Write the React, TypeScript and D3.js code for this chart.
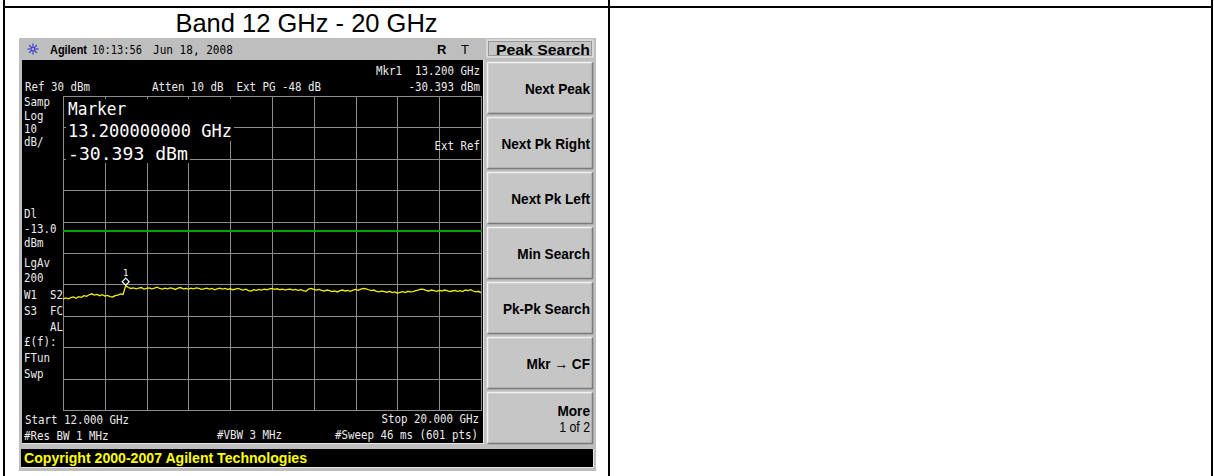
import React from "react";
import * as d3 from "d3";

// ---------- data ----------
const startGHz = 12;
const stopGHz = 20;
const refLevel = 30; // dBm, top of graticule
const dbPerDiv = 10;
const displayLine = -13; // dBm
const markerFreq = 13.2;
const markerLevel = -30.393;

// trace levels (dBm), 12.00 .. 20.00 GHz in 0.05 GHz steps
const traceLevels = [
  -34.7, -34.3, -34.6, -34.2, -34.0, -34.4, -33.9, -34.1, -33.6, -33.8,
  -33.3, -33.0, -33.4, -33.2, -33.6, -33.3, -33.7, -33.5, -33.9, -34.0,
  -33.6, -33.4, -33.0, -33.2, -30.4, -31.0, -31.3, -31.1, -31.4, -31.2,
  -31.0, -31.5, -31.3, -31.1, -31.4, -31.2, -30.9, -31.3, -31.5, -31.2,
  -31.4, -31.1, -31.3, -31.6, -31.2, -31.0, -31.4, -31.3, -31.5, -31.2,
  -31.4, -31.1, -31.3, -31.6, -31.4, -31.2, -31.5, -31.3, -31.7, -31.4,
  -31.2, -31.5, -31.3, -31.6, -31.4, -31.7, -31.5, -31.3, -31.6, -31.8,
  -31.5, -32.0, -32.1, -31.7, -31.9, -31.6, -31.8, -31.5, -31.7, -31.4,
  -31.3, -31.6, -31.4, -31.7, -31.5, -31.8, -31.6, -31.5, -31.8, -31.6,
  -31.9, -31.7, -32.0, -32.2, -31.5, -31.3, -31.6, -31.8, -31.6, -31.9,
  -32.1, -31.8, -32.0, -32.3, -32.1, -32.4, -32.0, -31.8, -32.1, -31.9,
  -32.2, -31.8, -31.6, -31.9, -31.5, -31.3, -31.4, -31.7, -32.0, -31.8,
  -32.2, -32.4, -32.1, -32.3, -32.5, -32.2, -32.6, -32.4, -32.8, -32.5,
  -32.3, -32.6, -32.2, -32.4, -32.3, -32.0, -31.8, -31.5, -31.6, -31.9,
  -32.1, -31.8, -32.0, -32.2, -31.9, -32.1, -31.8, -32.0, -32.3, -32.1,
  -31.9, -32.2, -32.0, -32.3, -31.8, -32.0, -31.7, -32.1, -32.4, -32.2,
  -32.6,
];

const leftLabels = [
  { t: "Samp", x: 24, y: 106 },
  { t: "Log", x: 24, y: 120 },
  { t: "10", x: 24, y: 133 },
  { t: "dB/", x: 24, y: 146 },
  { t: "Dl", x: 24, y: 218 },
  { t: "-13.0", x: 24, y: 233 },
  { t: "dBm", x: 24, y: 247 },
  { t: "LgAv", x: 24, y: 267 },
  { t: "200", x: 24, y: 282 },
  { t: "W1", x: 24, y: 299 },
  { t: "S2", x: 50, y: 299 },
  { t: "S3", x: 24, y: 315 },
  { t: "FC", x: 50, y: 315 },
  { t: "AL", x: 50, y: 331 },
  { t: "£(f):", x: 24, y: 346 },
  { t: "FTun", x: 24, y: 362 },
  { t: "Swp", x: 24, y: 378 },
];

const softkeys = ["Next Peak", "Next Pk Right", "Next Pk Left", "Min Search", "Pk-Pk Search", "Mkr \u2192 CF"];

const divisions = d3.range(0, 11);

// ---------- layout ----------
const W = 1214;
const H = 476;
const gx0 = 63, gx1 = 481, gy0 = 96, gy1 = 410;
const mono = "'DejaVu Sans Mono', 'Liberation Mono', monospace";
const sans = "'Liberation Sans', Arial, sans-serif";
const txt = "#ececec";
const CW = 6.5; // instrument character pitch

function M({ x, y, t, anchor, fill, size, pitch }: { x: number; y: number; t: string; anchor?: string; fill?: string; size?: number; pitch?: number }) {
  return (
    <text
      x={x}
      y={y}
      textAnchor={anchor || "start"}
      fontFamily={mono}
      fontSize={size || 11.5}
      fill={fill || txt}
      textLength={t.length * (pitch || CW)}
      lengthAdjust="spacingAndGlyphs"
      style={{ whiteSpace: "pre" }}
    >
      {t}
    </text>
  );
}

function SK({ x, y, t, size, bold, sx }: { x: number; y: number; t: string; size: number; bold?: boolean; sx: number }) {
  return (
    <text
      transform={`translate(${x},${y}) scale(${sx},1)`}
      textAnchor="end"
      fontFamily={sans}
      fontWeight={bold ? "bold" : "normal"}
      fontSize={size}
      fill="#000"
    >
      {t}
    </text>
  );
}

export default function App() {
  const x = d3.scaleLinear().domain([startGHz, stopGHz]).range([gx0, gx1]);
  const y = d3.scaleLinear().domain([refLevel - 10 * dbPerDiv, refLevel]).range([gy1, gy0]);
  const freqs = traceLevels.map((_, i) => startGHz + (i * (stopGHz - startGHz)) / (traceLevels.length - 1));
  const line = d3
    .line<number>()
    .x((_, i) => x(freqs[i]))
    .y((d) => y(d));

  const px = (v: number) => Math.round(v) + 0.5;
  const mx = x(markerFreq);
  const my = y(markerLevel) - 4;

  const btnX = 487, btnW = 106, btnH = 52, btnTop = 62, btnStep = 55;

  const Button = ({ top, children }: { top: number; children: React.ReactNode }) => (
    <g>
      <rect x={btnX} y={top} width={btnW} height={btnH} fill="#c6c6c6" />
      <path d={`M${btnX + 0.5},${top + btnH - 0.5} V${top + 0.5} H${btnX + btnW - 0.5}`} fill="none" stroke="#f2f2f2" strokeWidth={1.5} />
      <path d={`M${btnX + 0.5},${top + btnH - 0.5} H${btnX + btnW - 0.5} V${top + 0.5}`} fill="none" stroke="#7a7a7a" strokeWidth={1.5} />
      {children}
    </g>
  );

  return (
    <svg
      width={W}
      height={H}
      viewBox={`0 0 ${W} ${H}`}
      style={{ position: "absolute", left: 0, top: 0, background: "#fff" }}
    >
      <rect width={W} height={H} fill="#fff" />
      {/* table borders */}
      <line x1={4} y1={0} x2={4} y2={H} stroke="#000" strokeWidth={2} />
      <line x1={609} y1={0} x2={609} y2={H} stroke="#000" strokeWidth={2} />
      <line x1={1212} y1={0} x2={1212} y2={H} stroke="#000" strokeWidth={2} />
      <line x1={3} y1={7} x2={1213} y2={7} stroke="#000" strokeWidth={2} />

      <text x={306.5} y={32} textAnchor="middle" fontFamily={sans} fontSize={25.5} fill="#000">
        Band 12 GHz - 20 GHz
      </text>

      {/* instrument panel */}
      <rect x={19} y={38} width={577} height={433} fill="#bebebe" />

      {/* top bar */}
      <g stroke="#3a3ad8" strokeWidth={1.2}>
        {d3.range(0, 8).map((k) => {
          const a = (k * Math.PI) / 4;
          return <line key={k} x1={33} y1={49} x2={33 + 5.5 * Math.cos(a)} y2={49 + 5.5 * Math.sin(a)} />;
        })}
      </g>
      <circle cx={33} cy={49} r={1.6} fill="#bebebe" stroke="#3a3ad8" strokeWidth={0.8} />
      <text x={50} y={53.5} fontFamily={sans} fontWeight="bold" fontSize={12.5} fill="#000" textLength={37} lengthAdjust="spacingAndGlyphs">Agilent</text>
      <M x={92} y={53.5} t="10:13:56" fill="#000" pitch={6.25} />
      <M x={153} y={53.5} t="Jun 18, 2008" fill="#000" pitch={6.65} />
      <text x={437} y={53.5} fontFamily={sans} fontWeight="bold" fontSize={13} fill="#000">R</text>
      <text x={461} y={53.5} fontFamily={sans} fontSize={13} fill="#000">T</text>

      {/* Peak Search title */}
      <rect x={487} y={40} width={106} height={17} fill="#c6c6c6" stroke="#ececec" strokeWidth={1} />
      <rect x={488.5} y={41.5} width={103} height={14} fill="none" stroke="#8c8c8c" strokeWidth={0.8} />
      <text x={590} y={54.5} textAnchor="end" fontFamily={sans} fontWeight="bold" fontSize={15.5} fill="#000" textLength={94} lengthAdjust="spacingAndGlyphs">
        Peak Search
      </text>

      {/* softkeys */}
      {softkeys.map((s, i) => (
        <Button key={s} top={btnTop + i * btnStep}>
          <SK x={590} y={btnTop + i * btnStep + 31.5} t={s} size={15.5} bold sx={0.88} />
        </Button>
      ))}
      <Button top={btnTop + 6 * btnStep}>
        <SK x={590} y={btnTop + 6 * btnStep + 23.5} t="More" size={15.5} bold sx={0.88} />
        <SK x={590} y={btnTop + 6 * btnStep + 40} t="1 of 2" size={14} sx={0.88} />
      </Button>

      {/* screen */}
      <rect x={22} y={60} width={461} height={383} fill="#000" />
      <path d="M22.5,443.5 H483.5 V60" fill="none" stroke="#e6e6e6" strokeWidth={1} />

      {/* graticule */}
      <g stroke="#8c8c8c" strokeWidth={1} shapeRendering="crispEdges">
        {divisions.map((i) => (
          <line key={"v" + i} x1={px(x(startGHz + (i * (stopGHz - startGHz)) / 10))} x2={px(x(startGHz + (i * (stopGHz - startGHz)) / 10))} y1={gy0} y2={gy1 + 1} />
        ))}
        {divisions.map((i) => (
          <line key={"h" + i} x1={gx0} x2={gx1 + 1} y1={px(y(refLevel - i * dbPerDiv))} y2={px(y(refLevel - i * dbPerDiv))} />
        ))}
      </g>

      {/* marker readout */}
      <rect x={66} y={99} width={168} height={42} fill="#000" />
      <rect x={66} y={140} width={124} height={23} fill="#000" />
      <M x={68} y={115} t="Marker" size={18.5} fill="#fff" pitch={9.7} />
      <M x={68} y={137} t="13.200000000 GHz" size={18.5} fill="#fff" pitch={10.25} />
      <M x={68} y={159.5} t="-30.393 dBm" size={18.5} fill="#fff" pitch={10.9} />

      {/* display line */}
      <line x1={gx0} x2={gx1 + 1} y1={y(displayLine)} y2={y(displayLine)} stroke="#0aa00a" strokeWidth={2} />

      {/* trace */}
      <path d={line(traceLevels) || ""} fill="none" stroke="#f0f000" strokeWidth={1.3} />

      {/* marker symbol */}
      <path d={`M${mx},${my - 3.5} L${mx + 3.5},${my} L${mx},${my + 3.5} L${mx - 3.5},${my} Z`} fill="#000" stroke="#fff" strokeWidth={1.2} />
      <text x={mx} y={my - 6} textAnchor="middle" fontFamily={mono} fontSize={9} fill="#fff">1</text>

      {/* annotations */}
      <M x={480} y={75} t="Mkr1  13.200 GHz" anchor="end" />
      <M x={25} y={90.5} t="Ref 30 dBm" />
      <M x={152} y={90.5} t="Atten 10 dB  Ext PG -48 dB" />
      <M x={480} y={90.5} t="-30.393 dBm" anchor="end" />
      <M x={480} y={150} t="Ext Ref" anchor="end" />
      {leftLabels.map((l) => (
        <M key={l.t + l.y} x={l.x} y={l.y} t={l.t} />
      ))}
      <M x={25} y={423.5} t="Start 12.000 GHz" />
      <M x={479} y={423} t="Stop 20.000 GHz" anchor="end" />
      <M x={24} y={439.5} t="#Res BW 1 MHz" />
      <M x={217} y={439} t="#VBW 3 MHz" />
      <M x={478} y={439} t="#Sweep 46 ms (601 pts)" anchor="end" />

      {/* copyright bar */}
      <rect x={21} y={449} width={572} height={18} fill="#000" />
      <path d="M21.5,467.5 H593.5 V449" fill="none" stroke="#e6e6e6" strokeWidth={1} />
      <text x={24} y={462.5} fontFamily={sans} fontWeight="bold" fontSize={14.5} fill="#ffff00" textLength={283} lengthAdjust="spacingAndGlyphs">
        Copyright 2000-2007 Agilent Technologies
      </text>
    </svg>
  );
}
